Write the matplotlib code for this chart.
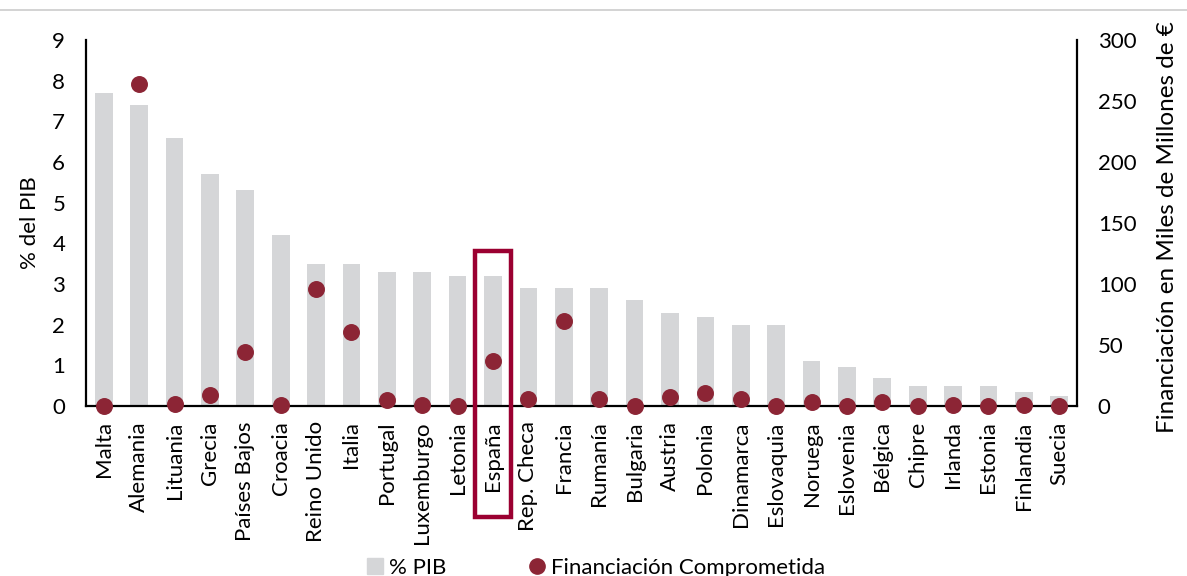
import matplotlib
matplotlib.use("Agg")
import matplotlib.pyplot as plt
from matplotlib.patches import Rectangle
from matplotlib.lines import Line2D
import matplotlib.transforms as mtransforms

plt.rcParams['font.family'] = ['Lato', 'DejaVu Sans']

paises = ["Malta", "Alemania", "Lituania", "Grecia", "Países Bajos", "Croacia",
          "Reino Unido", "Italia", "Portugal", "Luxemburgo", "Letonia", "España",
          "Rep. Checa", "Francia", "Rumanía", "Bulgaria", "Austria", "Polonia",
          "Dinamarca", "Eslovaquia", "Noruega", "Eslovenia", "Bélgica", "Chipre",
          "Irlanda", "Estonia", "Finlandia", "Suecia"]
pct_pib = [7.7, 7.4, 6.6, 5.7, 5.3, 4.2, 3.5, 3.5, 3.3, 3.3, 3.2, 3.2,
           2.9, 2.9, 2.9, 2.6, 2.3, 2.2, 2.0, 2.0, 1.1, 0.97, 0.68, 0.5,
           0.5, 0.5, 0.35, 0.25]
financiacion = [0, 264, 2, 9, 44, 1, 96, 61, 5, 1, 0, 37,
                5.5, 70, 5.5, 0, 7.5, 10.5, 5.5, 0, 3, 0, 3, 0,
                1, 0, 0.5, 0]
left_ticks = list(range(0, 10))
right_ticks = [0, 50, 100, 150, 200, 250, 300]
destacado = "España"

bar_color = "#D5D6D8"
dot_color = "#8C2535"
box_color = "#9B0031"

fig = plt.figure(figsize=(11.87, 5.76), dpi=100)
ax = fig.add_axes([0.0725, 0.295, 0.8348, 0.6356])
x = list(range(len(paises)))
ax.bar(x, pct_pib, width=0.5, color=bar_color, zorder=1)
ax.set_xlim(-0.5, len(paises) - 0.5)
ax.set_ylim(0, 9)
ax.set_yticks(left_ticks)
ax.set_yticklabels([str(t) for t in left_ticks], fontsize=16)
ax.set_xticks(x)
ax.set_xticklabels(paises, rotation=90, fontsize=16)
ax.tick_params(axis='x', length=0, pad=11)
ax.tick_params(axis='y', length=0, pad=15)
ax.set_ylabel("% del PIB", fontsize=16)
ax.yaxis.set_label_coords(-0.046, 0.5)
for s in ['top', 'right']:
    ax.spines[s].set_visible(False)
for s in ['left', 'bottom']:
    ax.spines[s].set_linewidth(1.6)
    ax.spines[s].set_color('black')

ax2 = ax.twinx()
ax2.scatter(x, financiacion, s=125, color=dot_color, zorder=5, clip_on=False)
ax2.set_ylim(0, 300)
ax2.set_yticks(right_ticks)
ax2.set_yticklabels([str(t) for t in right_ticks], fontsize=16)
ax2.tick_params(axis='y', length=0, pad=15)
for s in ['top', 'left', 'bottom']:
    ax2.spines[s].set_visible(False)
ax2.spines['right'].set_linewidth(1.6)
ax2.spines['right'].set_color('black')
ax2.set_ylabel("Financiación en Miles de Millones de €", fontsize=17.5)
ax2.yaxis.set_label_coords(1.081, 0.49)
ax.set_zorder(ax2.get_zorder() - 1)
ax.patch.set_visible(False)

# highlight box
idx = paises.index(destacado)
trans = mtransforms.blended_transform_factory(ax.transData, ax.transAxes)
rect = Rectangle((idx - 0.5, -0.303), 1.0, 0.727, fill=False,
                 edgecolor=box_color, linewidth=3.2, clip_on=False, zorder=10)
ax2.add_artist(rect)
rect.set_transform(trans)

# top border line
fig.add_artist(Line2D([0, 1], [0.983, 0.983], transform=fig.transFigure,
                      color="#CCCCCC", linewidth=1.2))

handles = [Line2D([], [], marker='s', linestyle='none', markersize=11,
                  color=bar_color, label='% PIB'),
           Line2D([], [], marker='o', linestyle='none', markersize=11,
                  color=dot_color, label='Financiación Comprometida')]
fig.legend(handles=handles, loc='lower center', bbox_to_anchor=(0.5, -0.038),
           ncol=2, frameon=False, fontsize=16, handletextpad=0.05,
           columnspacing=3.45, handlelength=1.2)

fig.savefig("out.png", dpi=100)
